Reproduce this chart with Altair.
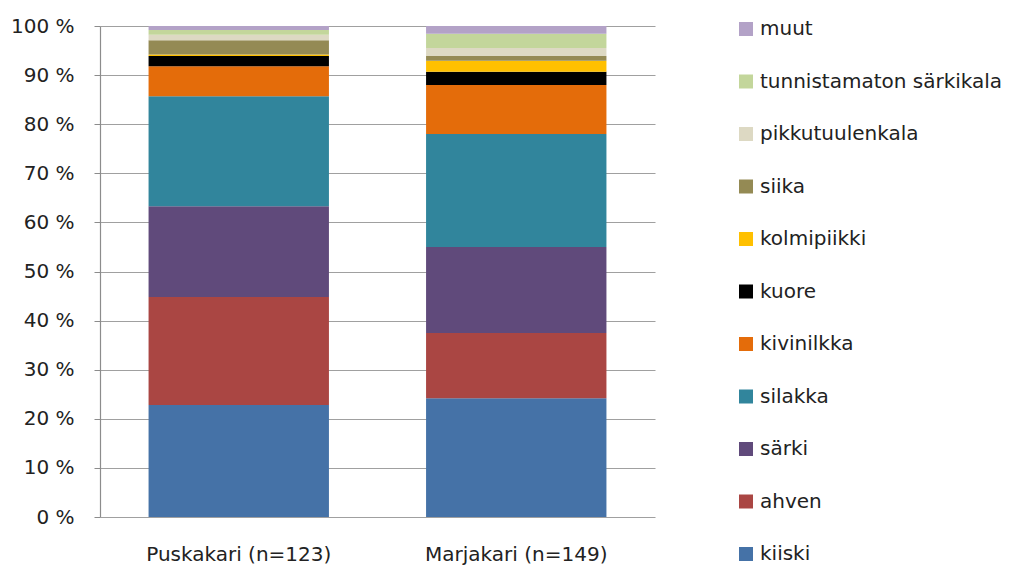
import altair as alt
import pandas as pd

sites = ["Puskakari (n=123)", "Marjakari (n=149)"]
species = ["kiiski", "ahven", "särki", "silakka", "kivinilkka", "kuore",
           "kolmipiikki", "siika", "pikkutuulenkala", "tunnistamaton särkikala", "muut"]
colors = ["#4572A7", "#AA4643", "#604A7B", "#31859C", "#E46C0A", "#000000",
          "#FFC000", "#948A54", "#DDD9C3", "#C3D69B", "#B3A2C7"]
puskakari = [22.8, 22.0, 18.5, 22.4, 6.1, 2.1, 0.3, 2.9, 1.1, 1.0, 0.8]
marjakari = [24.2, 13.3, 17.5, 23.0, 10.0, 2.7, 2.2, 1.0, 1.6, 2.9, 1.6]

rows = []
for site, vals in zip(sites, [puskakari, marjakari]):
    for i, (sp, v) in enumerate(zip(species, vals)):
        rows.append({"site": site, "species": sp, "value": v, "order": i})
df = pd.DataFrame(rows)

FONT = "DejaVu Sans"
FS = 20

chart = alt.Chart(df).mark_bar().encode(
    x=alt.X("site:N", sort=sites, title=None,
            scale=alt.Scale(paddingInner=0.35, paddingOuter=0.175),
            axis=alt.Axis(labelAngle=0, labelFontSize=FS, labelFont=FONT, labelColor="#222",
                          ticks=False, domain=False, labelPadding=27, labelLimit=300)),
    y=alt.Y("value:Q", stack="zero", title=None,
            scale=alt.Scale(domain=[0, 100], nice=False),
            axis=alt.Axis(values=list(range(0, 101, 10)), labelExpr="datum.value + ' %'",
                          labelFontSize=FS, labelFont=FONT, labelColor="#222",
                          grid=True, gridColor="#a0a0a0", gridWidth=1.2,
                          domainColor="#8c8c8c", domainWidth=1.2,
                          tickColor="#8c8c8c", tickSize=6, labelPadding=20)),
    color=alt.Color("species:N",
                    scale=alt.Scale(domain=species[::-1], range=colors[::-1]),
                    legend=alt.Legend(title=None, symbolType="square", symbolSize=196,
                                      symbolStrokeWidth=0, labelFontSize=FS, labelFont=FONT,
                                      labelColor="#222", rowPadding=32.5, orient="none",
                                      legendX=636, legendY=-7, labelLimit=400,
                                      labelOffset=4, padding=0)),
    order=alt.Order("order:Q", sort="ascending"),
).properties(
    width=555, height=491,
    autosize=alt.AutoSizeParams(type="none"),
    padding={"left": 92, "top": 18, "right": 358, "bottom": 52},
).configure_view(stroke=None).configure_axis(labelFont=FONT)

chart.save("out.html", embed_options={"renderer": "svg", "actions": False})
